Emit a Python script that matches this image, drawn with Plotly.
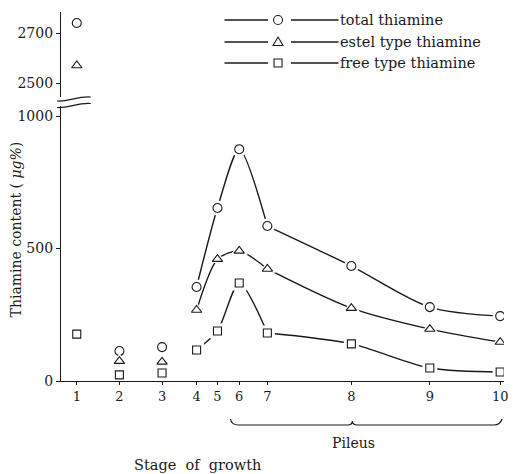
import plotly.graph_objects as go

# ---- data ----
stage_labels = ['1', '2', '3', '4', '5', '6', '7', '8', '9', '10']
# position of each stage along the (non-uniform) growth axis
stage_pos = [1.0, 2.0, 3.0, 3.81, 4.30, 4.81, 5.47, 7.44, 9.28, 10.93]
total_thiamine = [2740, 113, 128, 355, 653, 875, 585, 434, 279, 245]
estel_thiamine = [2570, 75, 72, 268, 460, 491, 423, 275, 196, 147]
free_thiamine = [177, 23, 30, 117, 189, 370, 181, 140, 49, 34]
series_names = ['total thiamine', 'estel type thiamine', 'free type thiamine']
series_symbols = ['circle', 'triangle-up', 'square']
upper_ticks = [2500, 2700]
lower_ticks = [0, 500, 1000]
BREAK = 1000  # values above this go on the upper (broken) axis
# curves: stages 4-7 (rise and peak) and stages 7-10 (decay)
CURVE_PARTS = [(3, 7, 0.75), (6, 10, 0.85)]

W, H = 513, 474
L, R, T, B = 61, 5, 12, 93
PW, PH = W - L - R, H - T - B
INK = '#1a1a1a'
FONT = 'DejaVu Serif'


def px(x):
    return (x - L) / PW


def py(y):
    return (H - B - y) / PH


fig = go.Figure()

for vals, name, sym in zip([total_thiamine, estel_thiamine, free_thiamine],
                           series_names, series_symbols):
    for a, b, sm in CURVE_PARTS:
        fig.add_trace(go.Scatter(x=stage_pos[a:b], y=vals[a:b], mode='lines',
                                 line=dict(color=INK, width=1.4, shape='spline', smoothing=sm),
                                 xaxis='x', yaxis='y', showlegend=False, hoverinfo='skip'))
    lo_x = [x for x, v in zip(stage_pos, vals) if v <= BREAK]
    lo_y = [v for v in vals if v <= BREAK]
    hi_x = [x for x, v in zip(stage_pos, vals) if v > BREAK]
    hi_y = [v for v in vals if v > BREAK]
    for xs, ys, ya in [(lo_x, lo_y, 'y'), (hi_x, hi_y, 'y2')]:
        if not xs:
            continue
        # white halo to create the small gap between curve and marker
        fig.add_trace(go.Scatter(x=xs, y=ys, mode='markers', xaxis='x', yaxis=ya,
                                 marker=dict(symbol=sym, size=15, color='white',
                                             line=dict(width=0)),
                                 showlegend=False, hoverinfo='skip'))
        fig.add_trace(go.Scatter(x=xs, y=ys, mode='markers', xaxis='x', yaxis=ya,
                                 marker=dict(symbol=sym, size=9 if sym != 'square' else 8,
                                             color='white', line=dict(color=INK, width=1.1)),
                                 name=name, showlegend=False))

shapes = []
annotations = []

# ---- custom legend ----
leg_rows = [20, 42, 63]
for row, name, sym in zip(leg_rows, series_names, series_symbols):
    for xa, xb in [(226, 270), (293, 341)]:
        shapes.append(dict(type='line', xref='paper', yref='paper',
                           x0=px(xa), x1=px(xb), y0=py(row), y1=py(row),
                           line=dict(color=INK, width=1.3)))
    common = dict(xref='paper', yref='paper', xsizemode='pixel', ysizemode='pixel',
                  xanchor=px(280), yanchor=py(row), line=dict(color=INK, width=1.1),
                  fillcolor='white')
    if sym == 'circle':
        shapes.append(dict(type='circle', x0=-4.5, x1=4.5, y0=-4.5, y1=4.5, **common))
    elif sym == 'square':
        shapes.append(dict(type='rect', x0=-4, x1=4, y0=-4, y1=4, **common))
    else:
        shapes.append(dict(type='path', path='M -5,-3.5 L 5,-3.5 L 0,5 Z', **common))
    annotations.append(dict(x=px(341), y=py(row), xref='paper', yref='paper',
                            text=name, showarrow=False, xanchor='left', yanchor='middle',
                            font=dict(family=FONT, size=14.5, color=INK)))

annotations.append(dict(x=px(16), y=py(229), xref='paper', yref='paper',
                        text='Thiamine content ( <i>μg%</i>)', textangle=-90,
                        showarrow=False, xanchor='center', yanchor='middle',
                        font=dict(family=FONT, size=14, color=INK)))
annotations.append(dict(x=px(199), y=py(465), xref='paper', yref='paper',
                        text='Stage  of  growth', showarrow=False,
                        xanchor='center', yanchor='middle',
                        font=dict(family=FONT, size=14.5, color=INK)))
annotations.append(dict(x=px(356), y=py(443), xref='paper', yref='paper',
                        text='Pileus', showarrow=False,
                        xanchor='center', yanchor='middle',
                        font=dict(family=FONT, size=14, color=INK)))

# brace under stages 6-10
brace = (f"M {px(232)},{py(419)} Q {px(233)},{py(425)} {px(240)},{py(425)} "
         f"L {px(350)},{py(425)} Q {px(355)},{py(425)} {px(355)},{py(421)} "
         f"Q {px(355)},{py(425)} {px(360)},{py(425)} "
         f"L {px(498)},{py(425)} Q {px(504)},{py(425)} {px(506)},{py(419)}")
shapes.append(dict(type='path', path=brace, xref='paper', yref='paper',
                   line=dict(color=INK, width=1.2)))
# axis break marks
for yb in [99, 105.5]:
    p = (f"M {px(57)},{py(yb + 2)} C {px(68)},{py(yb + 3)} {px(78)},{py(yb - 3)} "
         f"{px(91)},{py(yb - 2)}")
    shapes.append(dict(type='path', path=p, xref='paper', yref='paper',
                       line=dict(color=INK, width=1.1)))

axis_font = dict(family=FONT, size=14, color=INK)
lower_top = (H - B - 106) / PH
upper_bot = (H - B - 97) / PH

fig.update_layout(
    width=W, height=H,
    margin=dict(l=L, r=R, t=T, b=B),
    paper_bgcolor='white', plot_bgcolor='white',
    showlegend=False,
    xaxis=dict(range=[0.63, 11.02], tickvals=stage_pos, ticktext=stage_labels,
               showline=True, linecolor=INK, linewidth=1.3, ticks='outside',
               ticklen=3, tickcolor=INK, showgrid=False, zeroline=False,
               tickfont=dict(family=FONT, size=13, color=INK), anchor='y', domain=[0, 1]),
    yaxis=dict(range=[0, 1038], domain=[0, lower_top], tickvals=lower_ticks,
               showline=True, linecolor=INK, linewidth=1.3, ticks='outside',
               ticklen=4, tickcolor=INK, showgrid=False, zeroline=False,
               tickfont=axis_font, anchor='x'),
    yaxis2=dict(range=[2444, 2784], domain=[upper_bot, 1], tickvals=upper_ticks,
                showline=True, linecolor=INK, linewidth=1.3, ticks='outside',
                ticklen=4, tickcolor=INK, showgrid=False, zeroline=False,
                tickfont=axis_font, anchor='x'),
    annotations=annotations,
    shapes=shapes,
)

fig.write_html('out.html')
